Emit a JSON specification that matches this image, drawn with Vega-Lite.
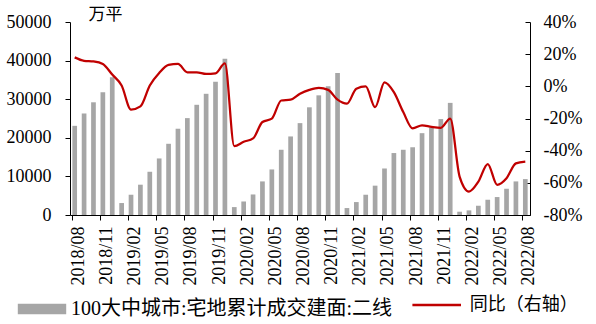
{
  "$schema": "https://vega.github.io/schema/vega-lite/v6.json",
  "width": 460,
  "height": 193,
  "autosize": {"type": "none"},
  "padding": {"left": 70, "top": 22, "right": 66, "bottom": 109},
  "background": "white",
  "config": {
    "view": {"stroke": null},
    "font": "Liberation Serif, Noto Sans CJK SC",
    "axis": {
      "grid": false,
      "domainColor": "#000",
      "tickColor": "#000",
      "labelColor": "#000",
      "labelFont": "Liberation Serif, Noto Sans CJK SC",
      "labelFontSize": 18,
      "titleFont": "Liberation Serif, Noto Sans CJK SC",
      "titleColor": "#000"
    },
    "legend": {
      "labelFont": "Liberation Serif, Noto Sans CJK SC",
      "labelFontSize": 18,
      "labelColor": "#000",
      "labelLimit": 0,
      "padding": 0
    }
  },
  "data": {
    "values": [
      {"m": "2018/08", "v": 23100, "p": 18.0},
      {"m": "2018/09", "v": 26300, "p": 15.9},
      {"m": "2018/10", "v": 29200, "p": 15.5},
      {"m": "2018/11", "v": 31800, "p": 13.9},
      {"m": "2018/12", "v": 35700, "p": 7.3},
      {"m": "2019/01", "v": 3100, "p": 0.5},
      {"m": "2019/02", "v": 5250, "p": -14.5},
      {"m": "2019/03", "v": 7850, "p": -12.5},
      {"m": "2019/04", "v": 11200, "p": 0.5},
      {"m": "2019/05", "v": 14650, "p": 8.3},
      {"m": "2019/06", "v": 18450, "p": 13.3},
      {"m": "2019/07", "v": 22350, "p": 13.9},
      {"m": "2019/08", "v": 25100, "p": 8.7},
      {"m": "2019/09", "v": 28550, "p": 8.7},
      {"m": "2019/10", "v": 31400, "p": 7.7},
      {"m": "2019/11", "v": 34500, "p": 8.1},
      {"m": "2019/12", "v": 40450, "p": 14.3},
      {"m": "2020/01", "v": 2050, "p": -37.2},
      {"m": "2020/02", "v": 3500, "p": -34.5},
      {"m": "2020/03", "v": 5320, "p": -32.4},
      {"m": "2020/04", "v": 8700, "p": -22.2},
      {"m": "2020/05", "v": 11800, "p": -20.1},
      {"m": "2020/06", "v": 16900, "p": -8.8},
      {"m": "2020/07", "v": 20350, "p": -8.3},
      {"m": "2020/08", "v": 23800, "p": -4.6},
      {"m": "2020/09", "v": 27900, "p": -2.2},
      {"m": "2020/10", "v": 31000, "p": -0.9},
      {"m": "2020/11", "v": 33350, "p": -2.2},
      {"m": "2020/12", "v": 36800, "p": -8.3},
      {"m": "2021/01", "v": 1800, "p": -10.8},
      {"m": "2021/02", "v": 3350, "p": -1.5},
      {"m": "2021/03", "v": 5250, "p": -0.1},
      {"m": "2021/04", "v": 7600, "p": -13.0},
      {"m": "2021/05", "v": 12050, "p": 2.5},
      {"m": "2021/06", "v": 16050, "p": -3.6},
      {"m": "2021/07", "v": 16900, "p": -16.0},
      {"m": "2021/08", "v": 17550, "p": -26.2},
      {"m": "2021/09", "v": 21200, "p": -24.2},
      {"m": "2021/10", "v": 22600, "p": -25.2},
      {"m": "2021/11", "v": 24850, "p": -25.8},
      {"m": "2021/12", "v": 29050, "p": -20.0},
      {"m": "2022/01", "v": 850, "p": -56.1},
      {"m": "2022/02", "v": 1200, "p": -65.4},
      {"m": "2022/03", "v": 2400, "p": -59.2},
      {"m": "2022/04", "v": 3950, "p": -48.3},
      {"m": "2022/05", "v": 4650, "p": -61.2},
      {"m": "2022/06", "v": 6800, "p": -57.1},
      {"m": "2022/07", "v": 8700, "p": -47.9},
      {"m": "2022/08", "v": 9300, "p": -46.8}
    ]
  },
  "encoding": {
    "x": {
      "field": "m",
      "type": "ordinal",
      "sort": null,
      "scale": {"paddingInner": 0.5, "paddingOuter": 0.25},
      "axis": {
        "title": null,
        "values": ["2018/08", "2018/11", "2019/02", "2019/05", "2019/08", "2019/11", "2020/02", "2020/05", "2020/08", "2020/11", "2021/02", "2021/05", "2021/08", "2021/11", "2022/02", "2022/05", "2022/08"],
        "bandPosition": 0,
        "labelOffset": 4,
        "labelAngle": -90,
        "tickSize": 5,
        "labelPadding": 6,
        "labelOverlap": false
      }
    }
  },
  "layer": [
    {
      "mark": {"type": "bar"},
      "encoding": {
        "y": {
          "field": "v",
          "type": "quantitative",
          "scale": {"domain": [0, 50000], "nice": false},
          "axis": {
            "values": [0, 10000, 20000, 30000, 40000, 50000],
            "format": "d",
            "title": "万平",
            "titleAngle": 0,
            "titleX": 18,
            "titleY": -7.5,
            "titleAlign": "left",
            "titleBaseline": "middle",
            "titleFontSize": 17,
            "titleFontWeight": "normal",
            "tickSize": 5,
            "labelPadding": 14
          }
        },
        "color": {
          "datum": "100大中城市:宅地累计成交建面:二线",
          "scale": {"range": ["#a6a6a6"]},
          "legend": {
            "orient": "none",
            "legendX": -58,
            "legendY": 257,
            "title": null,
            "symbolType": "stroke",
            "symbolSize": 2343,
            "symbolStrokeWidth": 10.7,
            "symbolStrokeColor": "#a6a6a6",
            "labelOffset": -1,
            "labelFontSize": 20
          }
        }
      }
    },
    {
      "mark": {"type": "line", "interpolate": "monotone", "strokeWidth": 2.25},
      "encoding": {
        "y": {
          "field": "p",
          "type": "quantitative",
          "scale": {"domain": [-80, 40], "nice": false},
          "axis": {
            "orient": "right",
            "values": [-80, -60, -40, -20, 0, 20, 40],
            "labelExpr": "datum.value + '%'",
            "title": null,
            "tickSize": -5,
            "labelPadding": 18
          }
        },
        "stroke": {
          "datum": "同比（右轴）",
          "scale": {"range": ["#c00000"]},
          "legend": {
            "orient": "none",
            "legendX": 340.7,
            "legendY": 257,
            "title": null,
            "symbolType": "stroke",
            "symbolSize": 2362,
            "symbolStrokeWidth": 2.5,
            "labelOffset": 7
          }
        }
      }
    }
  ],
  "resolve": {"scale": {"y": "independent"}}
}
